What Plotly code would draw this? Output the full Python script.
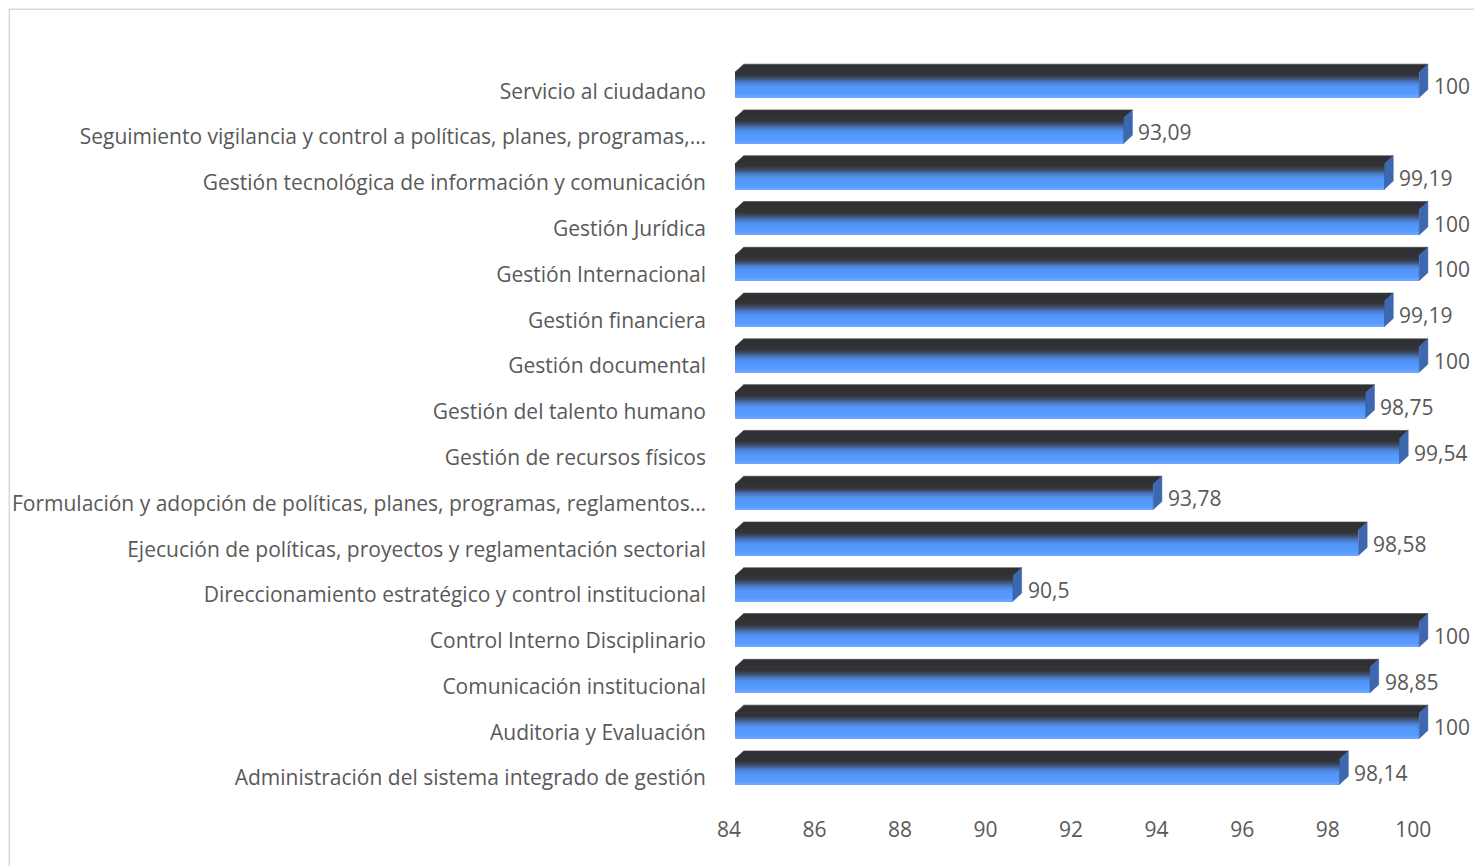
import plotly.graph_objects as go

# ---------------- data ----------------
categories = [
    "Administración del sistema integrado de gestión",
    "Auditoria y Evaluación",
    "Comunicación institucional",
    "Control Interno Disciplinario",
    "Direccionamiento estratégico y control institucional",
    "Ejecución de políticas, proyectos y reglamentación sectorial",
    "Formulación y adopción de políticas, planes, programas, reglamentos…",
    "Gestión de recursos físicos",
    "Gestión del talento humano",
    "Gestión documental",
    "Gestión financiera",
    "Gestión Internacional",
    "Gestión Jurídica",
    "Gestión tecnológica de información y comunicación",
    "Seguimiento vigilancia y control a políticas, planes, programas,…",
    "Servicio al ciudadano",
]
values = [98.14, 100, 98.85, 100, 90.5, 98.58, 93.78, 99.54, 98.75, 100,
          99.19, 100, 100, 99.19, 93.09, 100]
x_ticks = [84, 86, 88, 90, 92, 94, 96, 98, 100]
value_labels = [f"{v:g}".replace(".", ",") for v in values]

# ---------------- geometry / style ----------------
SHIFT = 8                # page body margin
W, H = 1482 - SHIFT, 866 - SHIFT
X_MIN, X_MAX = 84, 100.3
Y_MIN, Y_MAX = -0.5, 15.75
PLOT_L = 735 - SHIFT
PX_X = 42.75            # px per x unit
PX_Y = 45.8             # px per row
PLOT_R = PLOT_L + (X_MAX - X_MIN) * PX_X
ROW_TOP_CENTER = 91.5 - SHIFT
PLOT_T = ROW_TOP_CENTER - (Y_MAX - 15) * PX_Y
PLOT_B = PLOT_T + (Y_MAX - Y_MIN) * PX_Y

DX = 8.7 / PX_X
DY = 8.0 / PX_Y
FRONT_TOP = 19.2 / PX_Y
FRONT_BOT = -6.2 / PX_Y
LABEL_DY = 5.0 / PX_Y

TEXT_COLOR = "#595959"
FONT = "'Open Sans', 'Noto Sans', sans-serif"
FS = 21

positions = list(range(len(categories)))

# gradient stops for the front face (0 = top, 1 = bottom)
grad = [(0.0, (46, 47, 50)), (0.15, (52, 54, 58)), (0.28, (62, 80, 112)),
        (0.41, (72, 118, 190)), (0.54, (80, 143, 236)), (0.68, (84, 151, 252)),
        (0.9, (89, 156, 255)), (1.0, (110, 168, 255))]


def interp(t):
    for (t0, c0), (t1, c1) in zip(grad[:-1], grad[1:]):
        if t0 <= t <= t1:
            f = (t - t0) / (t1 - t0) if t1 > t0 else 0
            return "rgb(%d,%d,%d)" % tuple(round(a + (b - a) * f) for a, b in zip(c0, c1))
    return "rgb(%d,%d,%d)" % grad[-1][1]


fig = go.Figure()

# front face as stacked thin strips forming a vertical gradient
N = 26
h = (FRONT_TOP - FRONT_BOT) / N
for i in range(N):
    t = (i + 0.5) / N
    fig.add_trace(go.Bar(
        y=positions, x=[v - X_MIN for v in values], base=X_MIN,
        orientation="h", width=h * 1.15, offset=FRONT_TOP - (i + 1) * h,
        marker=dict(color=interp(t), line=dict(width=0)),
        hoverinfo="skip", showlegend=False,
    ))

# top face (parallelograms)
tx, ty = [], []
for p, v in zip(positions, values):
    tx += [X_MIN, v, v + DX, X_MIN + DX, X_MIN, None]
    ty += [p + FRONT_TOP, p + FRONT_TOP, p + FRONT_TOP + DY, p + FRONT_TOP + DY, p + FRONT_TOP, None]
fig.add_trace(go.Scatter(x=tx, y=ty, mode="lines", fill="toself",
                         fillcolor="#303134", line=dict(width=0.6, color="#3a3b3e"),
                         hoverinfo="skip", showlegend=False))

# side face (right end)
sx, sy = [], []
for p, v in zip(positions, values):
    sx += [v, v, v + DX, v + DX, v, None]
    sy += [p + FRONT_BOT, p + FRONT_TOP, p + FRONT_TOP + DY, p + FRONT_BOT + DY, p + FRONT_BOT, None]
fig.add_trace(go.Scatter(x=sx, y=sy, mode="lines", fill="toself",
                         fillcolor="#3d68b0", line=dict(width=0.5, color="#355a98"),
                         hoverinfo="skip", showlegend=False))

# value labels
for p, v, lab in zip(positions, values, value_labels):
    fig.add_annotation(x=v + DX, y=p + LABEL_DY, text=lab, showarrow=False,
                       xanchor="left", yanchor="middle", xshift=4,
                       font=dict(family=FONT, size=FS, color=TEXT_COLOR))


# chart-area border
def px_to_paper_x(px):
    return (px - SHIFT - PLOT_L) / (PLOT_R - PLOT_L)


def px_to_paper_y(py):
    return (PLOT_B - (py - SHIFT)) / (PLOT_B - PLOT_T)


fig.add_shape(type="rect", xref="paper", yref="paper",
              x0=px_to_paper_x(9.5), x1=px_to_paper_x(1500),
              y0=px_to_paper_y(880), y1=px_to_paper_y(9.5),
              line=dict(color="#d9d9d9", width=1.5), fillcolor="rgba(0,0,0,0)", layer="below")

fig.update_layout(
    width=W, height=H,
    margin=dict(l=PLOT_L, r=W - PLOT_R, t=PLOT_T, b=H - PLOT_B, pad=0),
    paper_bgcolor="white", plot_bgcolor="white",
    barmode="overlay", bargap=0,
    font=dict(family=FONT, size=FS, color=TEXT_COLOR),
    xaxis=dict(range=[X_MIN, X_MAX], tickvals=x_ticks, ticktext=[str(t) for t in x_ticks],
               showgrid=False, zeroline=False, showline=False, ticks="",
               ticklabelstandoff=14, ticklabelshift=-6,
               tickfont=dict(family=FONT, size=FS, color=TEXT_COLOR)),
    yaxis=dict(range=[Y_MIN, Y_MAX], tickvals=positions, ticktext=categories,
               showgrid=False, zeroline=False, showline=False, ticks="",
               ticklabelstandoff=28, automargin=False,
               tickfont=dict(family=FONT, size=FS, color=TEXT_COLOR)),
)

fig.write_html("out.html")
